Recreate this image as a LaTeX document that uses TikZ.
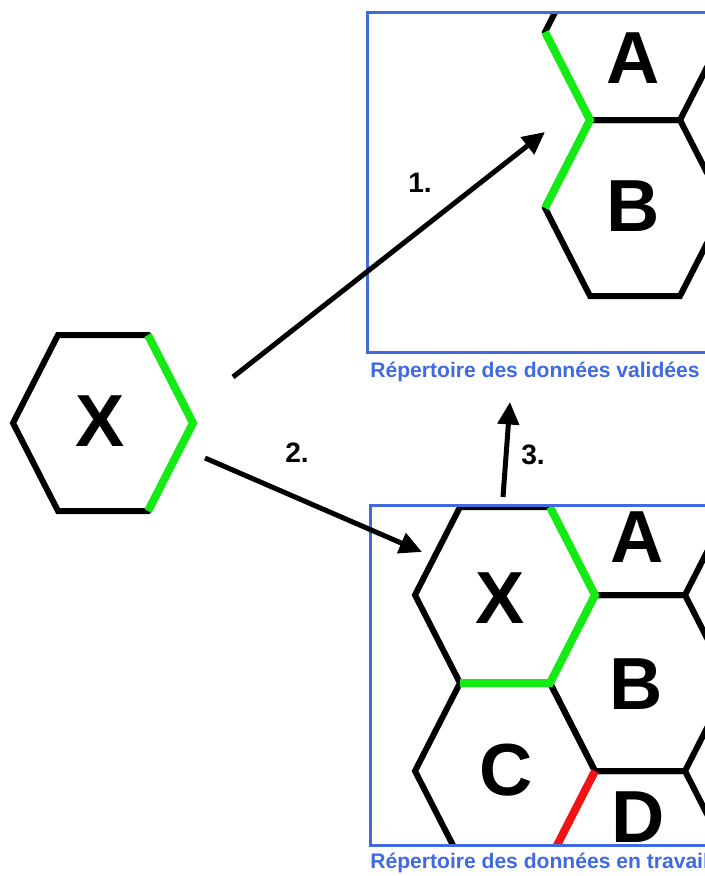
\documentclass[tikz,border=0pt]{standalone}
\usepackage{fontspec}
\setmainfont{Liberation Sans}
\usetikzlibrary{arrows.meta}
\definecolor{okgreen}{RGB}{20,235,20}
\definecolor{badred}{RGB}{240,20,20}
\definecolor{dirblue}{RGB}{65,105,225}
\tikzset{
  hexline/.style={line width=0.12cm},
  markline/.style={line width=0.16cm},
  hexcell/.pic={\draw[hexline] (-90,0) -- (-45,-88) -- (45,-88) -- (90,0) -- (45,88) -- (-45,88) -- cycle;},
  letter/.style={font=\fontsize{42}{42}\selectfont\bfseries, inner sep=0pt},
  numlabel/.style={font=\fontsize{16}{16}\selectfont\bfseries, inner sep=0pt},
  dirbox/.style={draw=dirblue, line width=0.06cm},
  dirname/.style={font=\fontsize{12}{12}\selectfont\bfseries, text=dirblue, anchor=base west, inner sep=0pt},
  flow/.style={line width=0.1cm, -{Triangle[length=0.45cm,width=0.42cm]}}
}
\begin{document}
\begin{tikzpicture}[x=0.02cm,y=-0.02cm]
  \useasboundingbox (0,0) rectangle (705,876);
  % the new cell
  \pic at (103,423) {hexcell};
  \draw[markline,okgreen] (148,335) -- (193,423) -- (148,511);
  \node[letter] (lx) at (100,421) {X};
  % validated data
  \begin{scope}
    \clip (367,12) rectangle (705,352);
    \pic at (635,32) {hexcell};
    \pic at (635,208) {hexcell};
    \draw[markline,okgreen] (545,32) -- (590,120) -- (545,208);
  \end{scope}
  \draw[dirbox] (367,12) rectangle (730,352);
  \node[letter] (va) at (633,58) {A};
  \node[letter] (vb) at (633,206) {B};
  \node[dirname] (vname) at (370,377) {Répertoire des données validées};
  % work data
  \begin{scope}
    \clip (370,505) rectangle (705,845);
    \pic at (505,595) {hexcell};
    \pic at (640,507) {hexcell};
    \pic at (640,683) {hexcell};
    \pic at (505,771) {hexcell};
    \pic at (640,859) {hexcell};
    \draw[markline,okgreen] (550,507) -- (595,595) -- (550,683) -- (460,683);
    \draw[markline,badred] (595,771) -- (550,859);
  \end{scope}
  \draw[dirbox] (370,505) rectangle (730,845);
  \node[letter] (wx) at (500,598) {X};
  \node[letter] (wa) at (637,537) {A};
  \node[letter] (wb) at (636,684) {B};
  \node[letter] (wc) at (506,770) {C};
  \node[letter] (wd) at (638,817) {D};
  \node[dirname] (wname) at (370,868) {Répertoire des données en travail};
  % steps
  \coordinate (s1) at (233,377);
  \coordinate (e1) at (545,132);
  \coordinate (s2) at (205,458);
  \coordinate (e2) at (422,552);
  \coordinate (s3) at (503,497);
  \coordinate (e3) at (510,402);
  \draw[flow] (s1) -- (e1);
  \draw[flow] (s2) -- (e2);
  \draw[flow] (s3) -- (e3);
  \node[numlabel] (n1) at (420,183) {1.};
  \node[numlabel] (n2) at (297,453) {2.};
  \node[numlabel] (n3) at (533,455) {3.};
\end{tikzpicture}
\end{document}
